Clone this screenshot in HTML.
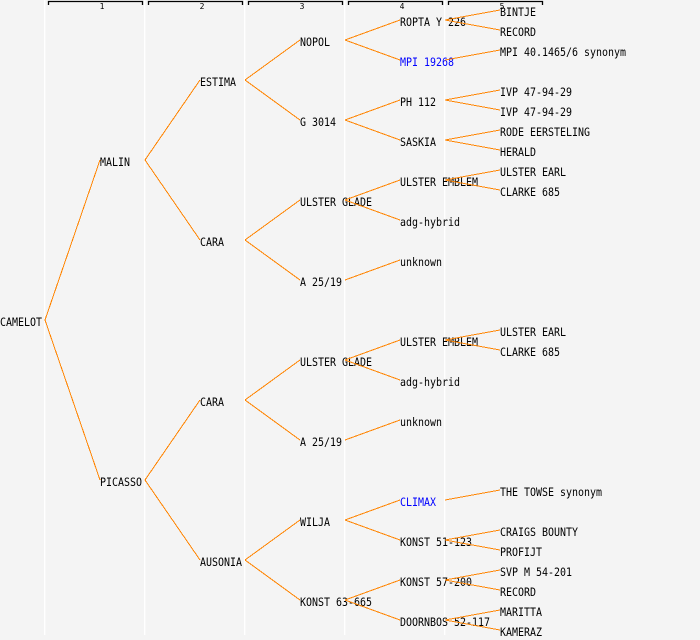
<!DOCTYPE html>
<html><head><meta charset="utf-8"><style>
html,body{margin:0;padding:0;background:#f4f4f4;}
svg{display:block;}
text{font-family:"DejaVu Sans Mono","Liberation Mono",monospace;}
</style></head><body>
<svg width="700" height="640" viewBox="0 0 700 640" xmlns="http://www.w3.org/2000/svg">
<rect x="0" y="0" width="700" height="640" fill="#f4f4f4"/>
<g fill="#ffffff">
<rect x="44" y="0" width="1.3" height="635"/>
<rect x="144" y="0" width="1.3" height="635"/>
<rect x="244" y="0" width="1.3" height="635"/>
<rect x="344" y="0" width="1.3" height="635"/>
<rect x="444" y="0" width="1.3" height="635"/>
</g>
<g fill="none" stroke="#000" stroke-width="1.3">
<path d="M48.5 5V1.5H142.5V5"/>
<path d="M148.5 5V1.5H242.5V5"/>
<path d="M248.5 5V1.5H342.5V5"/>
<path d="M348.5 5V1.5H442.5V5"/>
<path d="M448.5 5V1.5H542.5V5"/>
</g>
<g font-size="8" fill="#000" text-anchor="middle">
<text x="102" y="9">1</text>
<text x="202" y="9">2</text>
<text x="302" y="9">3</text>
<text x="402" y="9">4</text>
<text x="502" y="9">5</text>
</g>
<g font-size="11.5" fill="#000" lengthAdjust="spacingAndGlyphs">
<text x="0" y="326" textLength="42" lengthAdjust="spacingAndGlyphs">CAMELOT</text>
<text x="100" y="166" textLength="30" lengthAdjust="spacingAndGlyphs">MALIN</text>
<text x="100" y="486" textLength="42" lengthAdjust="spacingAndGlyphs">PICASSO</text>
<text x="200" y="86" textLength="36" lengthAdjust="spacingAndGlyphs">ESTIMA</text>
<text x="200" y="246" textLength="24" lengthAdjust="spacingAndGlyphs">CARA</text>
<text x="200" y="406" textLength="24" lengthAdjust="spacingAndGlyphs">CARA</text>
<text x="200" y="566" textLength="42" lengthAdjust="spacingAndGlyphs">AUSONIA</text>
<text x="300" y="46" textLength="30" lengthAdjust="spacingAndGlyphs">NOPOL</text>
<text x="300" y="126" textLength="36" lengthAdjust="spacingAndGlyphs">G 3014</text>
<text x="300" y="206" textLength="72" lengthAdjust="spacingAndGlyphs">ULSTER GLADE</text>
<text x="300" y="286" textLength="42" lengthAdjust="spacingAndGlyphs">A 25/19</text>
<text x="300" y="366" textLength="72" lengthAdjust="spacingAndGlyphs">ULSTER GLADE</text>
<text x="300" y="446" textLength="42" lengthAdjust="spacingAndGlyphs">A 25/19</text>
<text x="300" y="526" textLength="30" lengthAdjust="spacingAndGlyphs">WILJA</text>
<text x="300" y="606" textLength="72" lengthAdjust="spacingAndGlyphs">KONST 63-665</text>
<text x="400" y="26" textLength="66" lengthAdjust="spacingAndGlyphs">ROPTA Y 226</text>
<text x="400" y="66" textLength="54" lengthAdjust="spacingAndGlyphs" fill="#0000ff">MPI 19268</text>
<text x="400" y="106" textLength="36" lengthAdjust="spacingAndGlyphs">PH 112</text>
<text x="400" y="146" textLength="36" lengthAdjust="spacingAndGlyphs">SASKIA</text>
<text x="400" y="186" textLength="78" lengthAdjust="spacingAndGlyphs">ULSTER EMBLEM</text>
<text x="400" y="226" textLength="60" lengthAdjust="spacingAndGlyphs">adg-hybrid</text>
<text x="400" y="266" textLength="42" lengthAdjust="spacingAndGlyphs">unknown</text>
<text x="400" y="346" textLength="78" lengthAdjust="spacingAndGlyphs">ULSTER EMBLEM</text>
<text x="400" y="386" textLength="60" lengthAdjust="spacingAndGlyphs">adg-hybrid</text>
<text x="400" y="426" textLength="42" lengthAdjust="spacingAndGlyphs">unknown</text>
<text x="400" y="506" textLength="36" lengthAdjust="spacingAndGlyphs" fill="#0000ff">CLIMAX</text>
<text x="400" y="546" textLength="72" lengthAdjust="spacingAndGlyphs">KONST 51-123</text>
<text x="400" y="586" textLength="72" lengthAdjust="spacingAndGlyphs">KONST 57-200</text>
<text x="400" y="626" textLength="90" lengthAdjust="spacingAndGlyphs">DOORNBOS 52-117</text>
<text x="500" y="16" textLength="36" lengthAdjust="spacingAndGlyphs">BINTJE</text>
<text x="500" y="36" textLength="36" lengthAdjust="spacingAndGlyphs">RECORD</text>
<text x="500" y="56" textLength="126" lengthAdjust="spacingAndGlyphs">MPI 40.1465/6 synonym</text>
<text x="500" y="96" textLength="72" lengthAdjust="spacingAndGlyphs">IVP 47-94-29</text>
<text x="500" y="116" textLength="72" lengthAdjust="spacingAndGlyphs">IVP 47-94-29</text>
<text x="500" y="136" textLength="90" lengthAdjust="spacingAndGlyphs">RODE EERSTELING</text>
<text x="500" y="156" textLength="36" lengthAdjust="spacingAndGlyphs">HERALD</text>
<text x="500" y="176" textLength="66" lengthAdjust="spacingAndGlyphs">ULSTER EARL</text>
<text x="500" y="196" textLength="60" lengthAdjust="spacingAndGlyphs">CLARKE 685</text>
<text x="500" y="336" textLength="66" lengthAdjust="spacingAndGlyphs">ULSTER EARL</text>
<text x="500" y="356" textLength="60" lengthAdjust="spacingAndGlyphs">CLARKE 685</text>
<text x="500" y="496" textLength="102" lengthAdjust="spacingAndGlyphs">THE TOWSE synonym</text>
<text x="500" y="536" textLength="78" lengthAdjust="spacingAndGlyphs">CRAIGS BOUNTY</text>
<text x="500" y="556" textLength="42" lengthAdjust="spacingAndGlyphs">PROFIJT</text>
<text x="500" y="576" textLength="72" lengthAdjust="spacingAndGlyphs">SVP M 54-201</text>
<text x="500" y="596" textLength="36" lengthAdjust="spacingAndGlyphs">RECORD</text>
<text x="500" y="616" textLength="42" lengthAdjust="spacingAndGlyphs">MARITTA</text>
<text x="500" y="636" textLength="42" lengthAdjust="spacingAndGlyphs">KAMERAZ</text>
</g>
<g fill="none" stroke="#ff8400" stroke-width="1" shape-rendering="crispEdges">
<path d="M45 320L100 160M45 320L100 480"/>
<path d="M145 160L200 80M145 160L200 240M145 480L200 400M145 480L200 560"/>
<path d="M245 80L300 40M245 80L300 120M245 240L300 200M245 240L300 280M245 400L300 360M245 400L300 440M245 560L300 520M245 560L300 600"/>
<path d="M345 40L400 20M345 40L400 60M345 120L400 100M345 120L400 140M345 200L400 180M345 200L400 220M345 280L400 260M345 360L400 340M345 360L400 380M345 440L400 420M345 520L400 500M345 520L400 540M345 600L400 580M345 600L400 620"/>
<path d="M445 20L500 10M445 20L500 30M445 60L500 50M445 100L500 90M445 100L500 110M445 140L500 130M445 140L500 150M445 180L500 170M445 180L500 190M445 340L500 330M445 340L500 350M445 500L500 490M445 540L500 530M445 540L500 550M445 580L500 570M445 580L500 590M445 620L500 610M445 620L500 630"/>
</g>
</svg>
</body></html>
